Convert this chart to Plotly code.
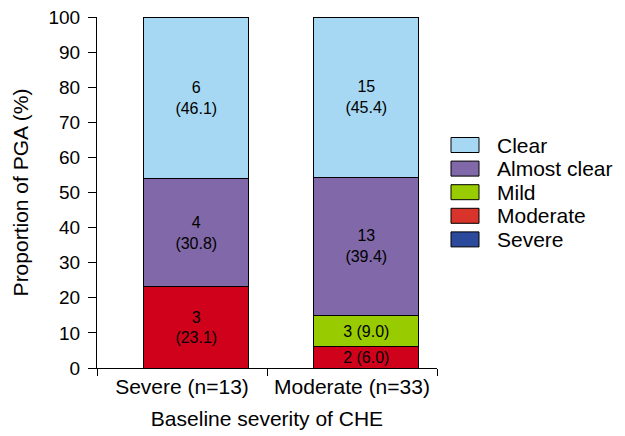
import plotly.graph_objects as go

# ---- data ----
groups = ["Severe (n=13)", "Moderate (n=33)"]
levels = ["Clear", "Almost clear", "Mild", "Moderate", "Severe"]
counts = {
    "Clear":        [6, 15],
    "Almost clear": [4, 13],
    "Mild":         [0, 3],
    "Moderate":     [3, 2],
    "Severe":       [0, 0],
}
percents = {
    "Clear":        [46.1, 45.4],
    "Almost clear": [30.8, 39.4],
    "Mild":         [0.0, 9.0],
    "Moderate":     [23.1, 6.0],
    "Severe":       [0.0, 0.0],
}
bar_colors = {
    "Clear": "#a6d8f4",
    "Almost clear": "#8168a8",
    "Mild": "#99cc00",
    "Moderate": "#d0021b",
    "Severe": "#2b4a9b",
}
legend_colors = {
    "Clear": "#a6d8f4",
    "Almost clear": "#8168a8",
    "Mild": "#99cc00",
    "Moderate": "#d8342b",
    "Severe": "#2b4a9b",
}

FONT = "Liberation Sans, Arial, sans-serif"

fig = go.Figure()
stack_order = ["Severe", "Moderate", "Mild", "Almost clear", "Clear"]
for lvl in stack_order:
    texts = []
    for n, p in zip(counts[lvl], percents[lvl]):
        if n == 0:
            texts.append("")
        elif p < 10:
            texts.append(f"{n} ({p:.1f})")
        else:
            texts.append(f"{n}<br>({p:.1f})")
    fig.add_trace(go.Bar(
        x=groups, y=percents[lvl], name=lvl,
        marker=dict(color=bar_colors[lvl], line=dict(color="black", width=1)),
        width=0.62, offset=-0.226,
        text=texts, textposition="inside", insidetextanchor="middle",
        textangle=0, constraintext="none",
        textfont=dict(family=FONT, size=16, color="black"),
        showlegend=False, hoverinfo="skip",
    ))

# manual legend (rectangular swatches)
shapes = []
annotations = []
y_top_px = 145
step_px = 23.6
plot_top, plot_bot, plot_left, plot_w = 17, 368, 97, 340
plot_h = plot_bot - plot_top
for i, lvl in enumerate(levels):
    yc = y_top_px + i * step_px
    yp = (plot_bot - yc) / plot_h
    h = 7.5 / plot_h
    shapes.append(dict(type="rect", xref="paper", yref="paper",
                       x0=(451 - plot_left) / plot_w, x1=(479 - plot_left) / plot_w,
                       y0=yp - h, y1=yp + h,
                       fillcolor=legend_colors[lvl], line=dict(color="black", width=1)))
    annotations.append(dict(xref="paper", yref="paper",
                            x=(495 - plot_left) / plot_w, y=yp,
                            xanchor="left", yanchor="middle", showarrow=False,
                            text=lvl, font=dict(family=FONT, size=21, color="black")))

fig.update_layout(
    barmode="stack",
    width=625, height=436,
    margin=dict(l=97, r=188, t=17, b=68, autoexpand=False),
    plot_bgcolor="white", paper_bgcolor="white",
    font=dict(family=FONT, color="black"),
    shapes=shapes, annotations=annotations,
    showlegend=False,
)
fig.update_xaxes(
    type="category", showline=True, linecolor="black", linewidth=1,
    ticks="outside", tickson="boundaries", ticklen=7, tickcolor="black",
    tickfont=dict(size=21, family=FONT), showgrid=False, automargin=False,
    title=dict(text="Baseline severity of CHE", font=dict(size=21, family=FONT), standoff=14),
)
fig.update_yaxes(
    range=[0, 100], dtick=10, showline=True, linecolor="black", linewidth=1,
    ticks="outside", ticklen=8, tickcolor="black", showgrid=False, zeroline=False,
    tickfont=dict(size=19, family=FONT), automargin=False, ticklabelstandoff=4,
    title=dict(text="Proportion of PGA (%)", font=dict(size=21, family=FONT), standoff=14),
)

fig.write_html("out.html", config={"displayModeBar": False},
               post_script="document.body.style.margin='0';document.body.style.overflow='hidden';")
